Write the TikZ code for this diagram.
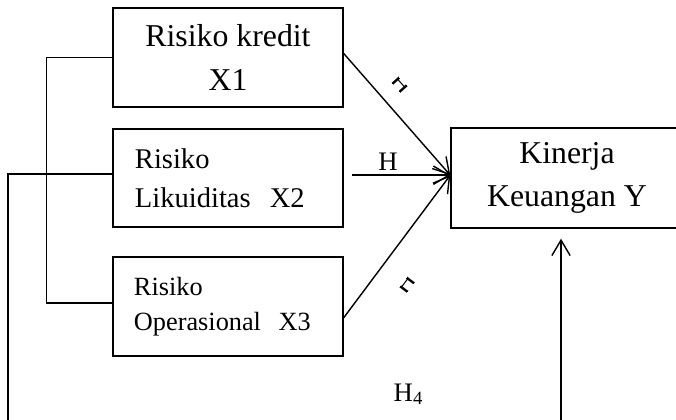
\documentclass[tikz,border=0pt]{standalone}
\usepackage{fontspec}
\setmainfont{Liberation Serif}
\usetikzlibrary{arrows.meta}
\usetikzlibrary{positioning}

\tikzset{
  varbox/.style={draw, line width=1pt, inner sep=0pt},
  arr/.style={-{Straight Barb[length=11pt,width=13pt,line width=1pt]}},
  hlabel/.style={inner sep=0pt, font=\fontsize{19}{21}\selectfont}
}

\begin{document}
\begin{tikzpicture}[x=0.025cm, y=-0.025cm, line width=1pt]
\clip (0,0) rectangle (676,420);
\node[varbox, minimum width=5.75cm, minimum height=2.475cm, align=center, font=\fontsize{22.6}{31}\selectfont] (X1) at (228,57.5) {Risiko kredit\\X1};
\node[varbox, minimum width=5.75cm, minimum height=2.45cm, text width=4.65cm, inner xsep=0.55cm, align=left, font=\fontsize{20.3}{27.5}\selectfont] (X2) at (228,178) {Risiko\\Likuiditas\ \ X2};
\node[varbox, minimum width=5.75cm, minimum height=2.475cm, text width=4.7cm, inner xsep=0.525cm, align=left, font=\fontsize{18.7}{24.8}\selectfont] (X3) at (228,306.5) {Risiko\\Operasional\ \ X3};
\node[varbox, minimum width=5.8cm, minimum height=2.5cm, align=center, font=\fontsize{22.6}{31}\selectfont] (Y) at (567,178) {Kinerja\\Keuangan Y};
\coordinate (B1) at (8,430);
\coordinate (B2) at (561,430);
\draw (X1.west) -- ++(-66,0) |- ([yshift=0.09cm]X3.west);
\draw ([yshift=0.1cm]X2.west) -| (B1);
\draw[arr] ([yshift=0.1cm]X1.east) -- ([yshift=0.07cm]Y.west);
\draw[arr] ([xshift=0.2cm,yshift=0.07cm]X2.east) -- ([yshift=0.07cm]Y.west);
\draw[arr] ([yshift=-0.28cm]X3.east) -- ([yshift=0.07cm]Y.west);
\draw[arr, shorten >=0.25cm] (B2) -- (B2 |- Y.south);
\node[hlabel] (H2) at (388,162) {H};
\node[hlabel, anchor=base west] (H4) at (393,401) {H\textsubscript{4}};
\begin{scope}[shift={(401,84)}, rotate=-48, transform shape]
\clip (-10,-3) rectangle (10,6);
\node[hlabel] (H1) at (0,0) {H};
\end{scope}
\begin{scope}[shift={(405,284)}, rotate=53, transform shape]
\clip (-10,-3) rectangle (10,6);
\node[hlabel] (H3) at (0,0) {H};
\end{scope}
\end{tikzpicture}
\end{document}
